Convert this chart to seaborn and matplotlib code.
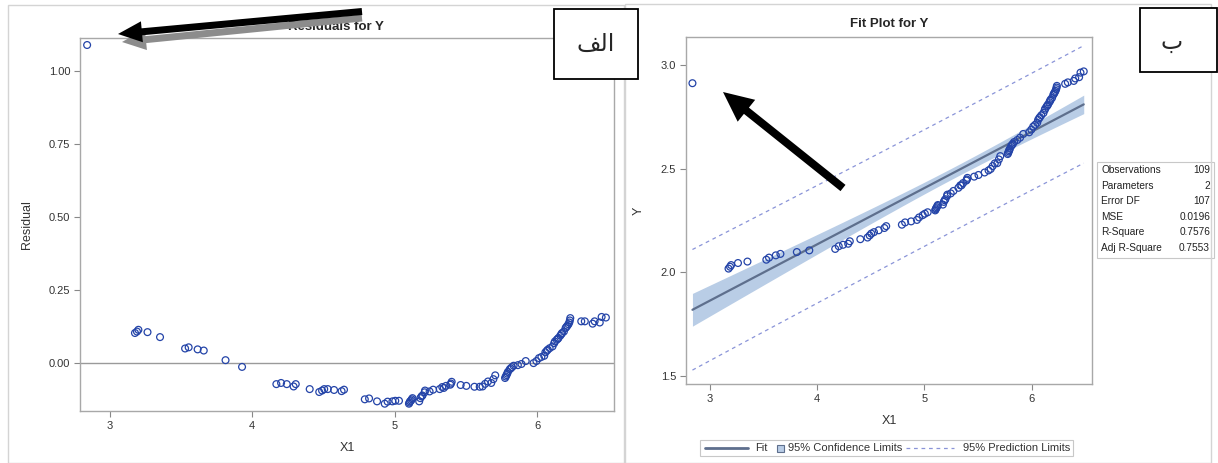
import numpy as np
import pandas as pd
import matplotlib
matplotlib.use("Agg")
import matplotlib.pyplot as plt
import seaborn as sns
from matplotlib.patches import Rectangle, FancyArrow
from matplotlib.lines import Line2D
from matplotlib.ticker import FormatStrFormatter
from matplotlib.transforms import IdentityTransform

#%% Data
x1 = [2.840, 3.176, 3.190, 3.200, 3.264, 3.352, 3.528, 3.553, 3.616, 3.659,
      3.812, 3.928, 4.169, 4.202, 4.242, 4.290, 4.305, 4.403, 4.470, 4.490,
      4.505, 4.530, 4.574, 4.627, 4.644, 4.790, 4.820, 4.876, 4.930, 4.950,
      4.984, 5.004, 5.030, 5.100, 5.104, 5.108, 5.115, 5.120, 5.125, 5.172,
      5.180, 5.188, 5.195, 5.210, 5.213, 5.245, 5.270, 5.316, 5.334, 5.345,
      5.360, 5.390, 5.395, 5.400, 5.463, 5.503, 5.560, 5.597, 5.617, 5.635,
      5.655, 5.678, 5.693, 5.706, 5.775, 5.780, 5.785, 5.790, 5.795, 5.808,
      5.815, 5.823, 5.835, 5.865, 5.890, 5.920, 5.975, 5.995, 6.013, 6.030,
      6.050, 6.058, 6.068, 6.075, 6.088, 6.108, 6.120, 6.125, 6.138, 6.145,
      6.150, 6.163, 6.170, 6.175, 6.188, 6.200, 6.206, 6.213, 6.220, 6.226,
      6.230, 6.233, 6.310, 6.335, 6.390, 6.404, 6.440, 6.453, 6.483]

resid = [1.089, 0.103, 0.108, 0.114, 0.106, 0.089, 0.050, 0.054, 0.047, 0.043,
         0.010, -0.013, -0.072, -0.068, -0.072, -0.080, -0.072, -0.089, -0.099, -0.094,
         -0.089, -0.089, -0.092, -0.096, -0.091, -0.124, -0.121, -0.131, -0.139, -0.132,
         -0.131, -0.129, -0.129, -0.139, -0.135, -0.131, -0.128, -0.124, -0.120, -0.131,
         -0.120, -0.114, -0.111, -0.100, -0.094, -0.097, -0.091, -0.089, -0.082, -0.085,
         -0.078, -0.074, -0.070, -0.064, -0.075, -0.078, -0.081, -0.081, -0.080, -0.071,
         -0.063, -0.068, -0.055, -0.042, -0.051, -0.046, -0.041, -0.036, -0.030, -0.021,
         -0.018, -0.014, -0.009, -0.007, -0.003, 0.007, 0.000, 0.007, 0.017, 0.021,
         0.025, 0.037, 0.042, 0.046, 0.051, 0.057, 0.068, 0.074, 0.080, 0.083,
         0.086, 0.094, 0.099, 0.103, 0.108, 0.120, 0.124, 0.128, 0.133, 0.139,
         0.146, 0.154, 0.143, 0.143, 0.135, 0.143, 0.139, 0.158, 0.156]

y = [2.912, 2.017, 2.026, 2.034, 2.044, 2.051, 2.060, 2.070, 2.081, 2.088,
     2.097, 2.105, 2.112, 2.125, 2.132, 2.137, 2.149, 2.159, 2.167, 2.177,
     2.186, 2.193, 2.202, 2.213, 2.222, 2.229, 2.240, 2.245, 2.252, 2.264,
     2.275, 2.282, 2.289, 2.298, 2.303, 2.308, 2.313, 2.319, 2.324, 2.326,
     2.339, 2.347, 2.352, 2.367, 2.374, 2.380, 2.392, 2.407, 2.419, 2.419,
     2.430, 2.442, 2.447, 2.455, 2.461, 2.469, 2.481, 2.491, 2.498, 2.512,
     2.525, 2.526, 2.544, 2.560, 2.570, 2.576, 2.583, 2.589, 2.596, 2.609,
     2.614, 2.620, 2.628, 2.638, 2.649, 2.667, 2.675, 2.688, 2.703, 2.711,
     2.721, 2.735, 2.743, 2.748, 2.757, 2.768, 2.783, 2.790, 2.800, 2.804,
     2.809, 2.820, 2.827, 2.833, 2.841, 2.856, 2.862, 2.868, 2.875, 2.883,
     2.891, 2.899, 2.909, 2.916, 2.923, 2.935, 2.941, 2.963, 2.969]

stat_names = ["Observations", "Parameters", "Error DF", "MSE", "R-Square", "Adj R-Square"]
stat_values = ["109", "2", "107", "0.0196", "0.7576", "0.7553"]
legend_labels = ["Fit", "95% Confidence Limits", "95% Prediction Limits"]

x_ticks = [3, 4, 5, 6]
res_ticks = [0.00, 0.25, 0.50, 0.75, 1.00]
fit_ticks = [1.5, 2.0, 2.5, 3.0]

#%% Regression (fit, 95% CLM and CLI)
df = pd.DataFrame({"X1": x1, "Y": y, "Residual": resid})
b1, b0 = np.polyfit(df["X1"], df["Y"], 1)
n = len(df)
xbar = df["X1"].mean()
sxx = ((df["X1"] - xbar) ** 2).sum()
mse = ((df["Y"] - (b0 + b1 * df["X1"])) ** 2).sum() / (n - 2)
t = 1.9824  # t(0.975, 107)

xs = np.sort(df["X1"].values)
fitted = b0 + b1 * xs
se_m = np.sqrt(mse * (1 / n + (xs - xbar) ** 2 / sxx))
se_p = np.sqrt(mse * (1 + 1 / n + (xs - xbar) ** 2 / sxx))
band = pd.DataFrame({"X1": xs, "fit": fitted,
                     "clm_lo": fitted - t * se_m, "clm_hi": fitted + t * se_m,
                     "cli_lo": fitted - t * se_p, "cli_hi": fitted + t * se_p})

#%% Style
sns.set_theme(style="white")
plt.rcParams["font.family"] = ["Liberation Sans", "DejaVu Sans"]

MARK = "#2444a8"
FIT = "#5e6f8d"
BAND = "#b9cde6"
PRED = "#8a94d8"
FRAME = "#a8a8a8"
TXT = "#333333"

W, H = 1218, 463
fig = plt.figure(figsize=(W / 100, H / 100), dpi=100)


def box(l, t_, r, b):
    return [l / W, 1 - b / H, (r - l) / W, (b - t_) / H]


ax1 = fig.add_axes(box(80, 38, 614, 411))
ax2 = fig.add_axes(box(686, 37, 1092, 384))

# panel A: residuals
ax1.axhline(0, color="#9a9a9a", lw=1, zorder=1)
sns.scatterplot(data=df, x="X1", y="Residual", ax=ax1, marker="o", s=24,
                facecolor="none", edgecolor=MARK, linewidth=0.9, zorder=3)
ax1.set_xlim(2.79, 6.54)
ax1.set_ylim(-0.164, 1.113)
ax1.set_yticks(res_ticks)
ax1.yaxis.set_major_formatter(FormatStrFormatter("%.2f"))
ax1.set_title("Residuals for Y", fontsize=9.5, fontweight="bold", pad=6, x=0.48)

# panel B: fit plot
ax2.fill_between(band["X1"], band["clm_lo"], band["clm_hi"], color=BAND, lw=0, zorder=1)
sns.lineplot(data=band, x="X1", y="fit", ax=ax2, color=FIT, lw=1.6,
             estimator=None, sort=False, zorder=2)
for col in ["cli_lo", "cli_hi"]:
    sns.lineplot(data=band, x="X1", y=col, ax=ax2, color=PRED, lw=0.9,
                 linestyle=(0, (3, 3)), estimator=None, sort=False, zorder=2)
sns.scatterplot(data=df, x="X1", y="Y", ax=ax2, marker="o", s=24,
                facecolor="none", edgecolor=MARK, linewidth=0.9, zorder=3)
ax2.set_xlim(2.78, 6.56)
ax2.set_ylim(1.46, 3.135)
ax2.set_yticks(fit_ticks)
ax2.yaxis.set_major_formatter(FormatStrFormatter("%.1f"))
ax2.set_title("Fit Plot for Y", fontsize=9.5, fontweight="bold", pad=7)

for ax, ylab in [(ax1, "Residual"), (ax2, "Y")]:
    ax.set_xticks(x_ticks)
    ax.set_xlabel("X1", fontsize=9, color=TXT)
    ax.set_ylabel(ylab, fontsize=9, color=TXT)
    ax.tick_params(bottom=True, left=True, direction="out", length=4, width=0.8,
                   color="#888888", labelsize=8, labelcolor=TXT, pad=3)
    for sp in ax.spines.values():
        sp.set_visible(True)
        sp.set_color(FRAME)
        sp.set_linewidth(1)
ax1.xaxis.set_label_coords(0.5, -0.083)
ax2.xaxis.set_label_coords(0.5, -0.089)
ax1.yaxis.set_label_coords(-0.088, 0.5)
ax2.yaxis.set_label_coords(-0.101, 0.5)

#%% Annotations: legend, stats table, panel borders, label boxes, arrows
ident = IdentityTransform()


def rect(l, t_, r, b, **kw):
    fig.add_artist(Rectangle((l, H - b), r - l, b - t_, transform=ident, **kw))


# legend under panel B (SAS style: compact keys)
rect(700, 440, 1073, 456, fill=False, ec="#c8c8c8", lw=0.8)
ly = H - 448
fig.add_artist(Line2D([705, 748], [ly, ly], color=FIT, lw=2, transform=ident))
fig.text(755 / W, ly / H, legend_labels[0], fontsize=8, color=TXT, va="center")
rect(777, 444.5, 784, 451.5, fc=BAND, ec=FIT, lw=0.8)
fig.text(788 / W, ly / H, legend_labels[1], fontsize=8, color=TXT, va="center")
fig.add_artist(Line2D([906, 954], [ly, ly], color=PRED, lw=0.9,
                      linestyle=(0, (3, 3)), transform=ident))
fig.text(963 / W, ly / H, legend_labels[2], fontsize=8, color=TXT, va="center")

rect(1097, 162, 1214, 258, fill=False, ec="#c8c8c8", lw=0.8)
for i, (nm, val) in enumerate(zip(stat_names, stat_values)):
    yy = 1 - (170 + i * 15.6) / H
    fig.text(1101 / W, yy, nm, fontsize=7.3, color="#222222", va="center", ha="left")
    fig.text(1210 / W, yy, val, fontsize=7.3, color="#222222", va="center", ha="right")

rect(8, 5, 624, 463, fill=False, ec="#d4d4d4", lw=1)
rect(625, 4, 1211, 463, fill=False, ec="#d4d4d4", lw=1)

rect(554, 9, 638, 79, fc="white", ec="black", lw=1.3, zorder=5)
rect(1140, 8, 1217, 72, fc="white", ec="black", lw=1.3, zorder=5)
# Arabic presentation forms in visual order (matplotlib does no shaping)
fig.text(596 / W, 1 - 44 / H, "\ufed2\ufedf\ufe8d", fontsize=17, ha="center", va="center",
         family=["DejaVu Sans"], zorder=6)
fig.text(1172 / W, 1 - 42 / H, "\u0628", fontsize=17, ha="center", va="center",
         family=["DejaVu Sans"], zorder=6)

# arrow in panel A (with grey shadow)
fig.add_artist(FancyArrow(362, H - 18, -240, -24, width=7, head_width=21, head_length=24,
                          length_includes_head=True, color="#8c8c8c", lw=0,
                          transform=ident, zorder=7))
fig.add_artist(FancyArrow(362, H - 11.5, -244, -22.5, width=7, head_width=21, head_length=24,
                          length_includes_head=True, color="black", lw=0,
                          transform=ident, zorder=8))
# arrow in panel B
fig.add_artist(FancyArrow(843, H - 188, -120, 96, width=8, head_width=28, head_length=30,
                          length_includes_head=True, color="black", lw=0,
                          transform=ident, zorder=8))

fig.savefig("out.png", dpi=100)
